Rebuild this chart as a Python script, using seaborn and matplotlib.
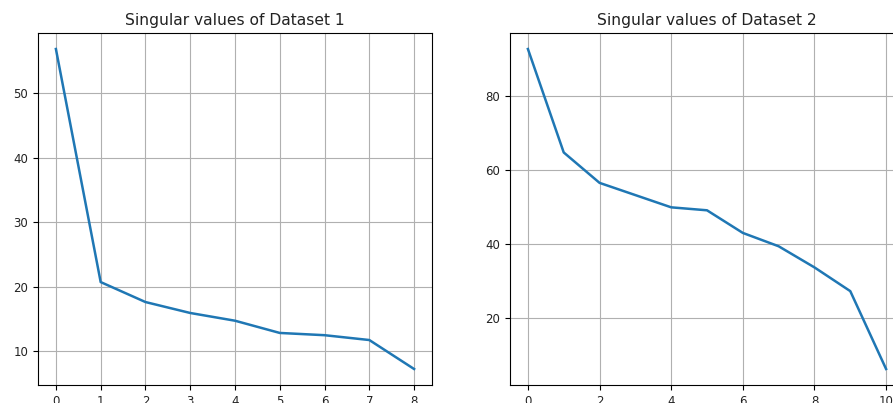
import numpy as np
import pandas as pd
import matplotlib; matplotlib.use("Agg")
import matplotlib.pyplot as plt
import seaborn as sns

# singular values
idx_1 = [0, 1, 2, 3, 4, 5, 6, 7, 8]
sv_1  = [56.9, 20.7, 17.6, 15.9, 14.7, 12.8, 12.45, 11.7, 7.2]

idx_2 = [0, 1, 2, 3, 4, 5, 6, 7, 8, 9, 10]
sv_2  = [92.6, 64.7, 56.5, 53.2, 49.9, 49.1, 43.0, 39.4, 33.7, 27.3, 6.3]

titles = ["Singular values of Dataset 1", "Singular values of Dataset 2"]

W, H = 893, 403
fig = plt.figure(figsize=(W/100, H/100), dpi=100)
fig.patch.set_facecolor("white")

# second panel runs off the right edge, like the cropped original
ax1 = fig.add_axes([38/W, 18/H, 394/W, 352/H])
ax2 = fig.add_axes([510/W, 18/H, 394/W, 352/H])

for ax, x, y, t in [(ax1, idx_1, sv_1, titles[0]), (ax2, idx_2, sv_2, titles[1])]:
    df = pd.DataFrame({"i": x, "s": y})
    sns.lineplot(data=df, x="i", y="s", ax=ax, color="#1f77b4", lw=1.8)
    ax.set_xlabel(""); ax.set_ylabel("")
    ax.set_title(t, fontsize=11.2, pad=6, color="#222222")
    ax.grid(True, color="#b0b0b0", lw=0.8)
    ax.set_axisbelow(True)
    ax.tick_params(labelsize=8.5, length=3.5, width=0.8, labelcolor="#222222")
    for sp in ax.spines.values():
        sp.set_color("black"); sp.set_linewidth(0.8)

ax1.set_xticks(idx_1)
ax1.set_yticks([10, 20, 30, 40, 50])
ax2.set_xticks([0, 2, 4, 6, 8, 10])
ax2.set_yticks([20, 40, 60, 80])

fig.savefig("out.png", dpi=100)
